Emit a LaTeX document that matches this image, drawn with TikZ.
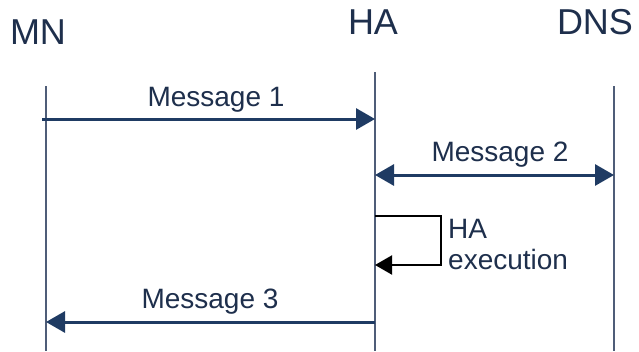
\documentclass[tikz,border=0pt]{standalone}
\usepackage{fontspec}
\setmainfont{Liberation Sans}
\usetikzlibrary{arrows.meta}

\definecolor{msgblue}{HTML}{1F3B63}
\definecolor{lifegray}{HTML}{4F5D78}
\definecolor{txtblue}{HTML}{1E2F4C}

\tikzset{
    entity/.style={text=txtblue, font=\fontsize{36}{40}\selectfont, inner sep=0pt},
    msglabel/.style={text=txtblue, font=\fontsize{28}{31}\selectfont, inner sep=0pt},
    lifeline/.style={draw=lifegray, line width=1.6pt},
    msg/.style={draw=msgblue, line width=3pt, -{Triangle[length=19pt,width=21pt]}},
    selfmsg/.style={draw=black, line width=2pt, -{Triangle[length=17pt,width=19pt]}},
}

\begin{document}
\begin{tikzpicture}[x=1pt, y=-1pt]
    \useasboundingbox (0,0) rectangle (639,351);

    % Teilnehmer.
    \node[entity] (mn) at (38,32) {MN};
    \node[entity] (ha) at (373,22) {HA};
    \node[entity] (dns) at (595,22) {DNS};

    % Lebenslinien.
    \coordinate (mnTop) at (46,86);
    \coordinate (mnBot) at (46,351);
    \coordinate (haTop) at (375,72);
    \coordinate (haBot) at (375,351);
    \coordinate (dnsTop) at (614,86);
    \coordinate (dnsBot) at (614,351);
    \draw[lifeline] (mnTop) -- (mnBot);
    \draw[lifeline] (haTop) -- (haBot);
    \draw[lifeline] (dnsTop) -- (dnsBot);

    % Nachrichten.
    \coordinate (m1a) at (42,119);
    \coordinate (m1b) at (375,119);
    \draw[msg] (m1a) -- (m1b);
    \node[msglabel] (m1) at (216,100) {Message 1};

    \coordinate (m2a) at (375,175);
    \coordinate (m2b) at (614,175);
    \draw[msg, {Triangle[length=19pt,width=21pt]}-{Triangle[length=19pt,width=21pt]}] (m2a) -- (m2b);
    \node[msglabel] (m2) at (500,155) {Message 2};

    \coordinate (exA) at (375,216);
    \coordinate (exB) at (441,216);
    \coordinate (exC) at (441,265);
    \coordinate (exD) at (375,265);
    \draw[selfmsg] (exA) -- (exB) -- (exC) -- (exD);
    \node[msglabel, anchor=north west, align=left] (ex) at (448,219) {HA\\execution};

    \coordinate (m3a) at (375,322);
    \coordinate (m3b) at (46,322);
    \draw[msg] (m3a) -- (m3b);
    \node[msglabel] (m3) at (210,302) {Message 3};
\end{tikzpicture}
\end{document}
